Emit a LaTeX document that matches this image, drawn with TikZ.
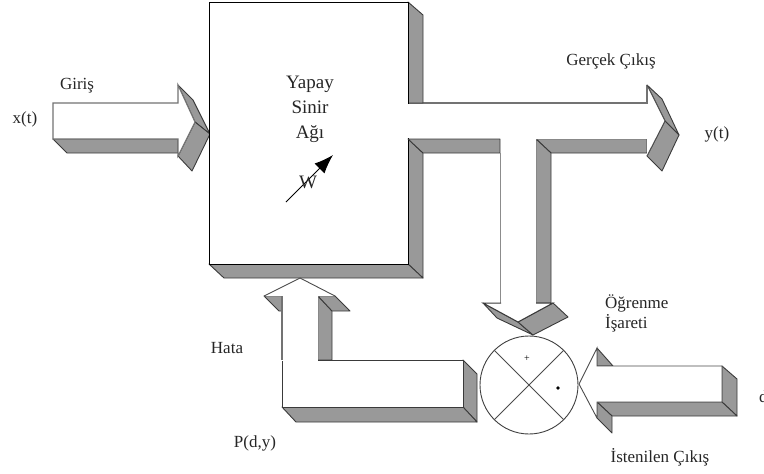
\documentclass[tikz,border=0pt]{standalone}
\usepackage{fontspec}
\setmainfont{Liberation Serif}
\usetikzlibrary{arrows.meta}
\definecolor{facegray}{HTML}{999999}
\definecolor{edgegray}{HTML}{3A3A3A}
\tikzset{
  shade3d/.style={fill=facegray,draw=edgegray,line width=0.9pt,line join=round},
  front/.style={fill=white,draw=edgegray,line width=1pt,line join=miter},
  lighter/.style={draw=black!55,line width=1.1pt},
  thinline/.style={draw=black!70,line width=0.9pt},
  lbl/.style={font=\fontsize{17}{20}\selectfont,text=black!85,inner sep=0pt},
  bigl/.style={font=\fontsize{19}{25}\selectfont,text=black!85,inner sep=0pt,align=center}
}
\begin{document}
\begin{tikzpicture}[x=1pt,y=-1pt]
\useasboundingbox (0,0) rectangle (764,474);
\fill[white] (0,0) rectangle (764,474);

% ---- input arrow
\draw[shade3d] (53,139) -- (67,153) -- (178,153) -- (178,139) -- cycle;
\draw[shade3d] (178,85) -- (193,100) -- (210,134) -- (195,122) -- cycle;
\draw[shade3d] (178,156) -- (192,171) -- (210,134) -- (195,122) -- cycle;
\draw[front,draw=black!55,line width=1.1pt] (53,103) -- (178,103) -- (178,85) -- (195,122) -- (178,156) -- (178,139) -- (53,139) -- cycle;

% ---- output arrow, T junction and its depth faces
\draw[shade3d] (536,139) -- (647,139) -- (647,153) -- (551,153) -- cycle;
\draw[shade3d] (536,139) -- (551,153) -- (551,303) -- (536,303) -- cycle;
\draw[shade3d] (647,85) -- (662,99) -- (679,135) -- (665,121) -- cycle;
\draw[shade3d] (647,156) -- (662,171) -- (679,135) -- (665,121) -- cycle;
\fill[white] (408,103) -- (647,103) -- (647,85) -- (665,121) -- (647,156) -- (647,139) -- (536,139) -- (536,303) -- (501,303) -- (501,139) -- (408,139) -- cycle;
\draw[lighter] (408,103) -- (647,103) -- (647,85);
\draw[thinline] (647,85) -- (665,121) -- (647,156);

% ---- main box depth faces
\draw[shade3d] (408,2) -- (423,15) -- (423,103) -- (408,103) -- cycle;
\draw[shade3d] (408,139) -- (423,153) -- (423,278) -- (408,264) -- cycle;
\draw[shade3d] (209,264) -- (408,264) -- (423,278) -- (224,278) -- cycle;
\draw[draw=black,line width=1pt,fill=white] (408,103) -- (408,264) -- (209,264) -- (209,2) -- (408,2) -- (408,103);
\fill[white] (407.2,104) rectangle (409.6,138);
\draw[shade3d] (408,139) -- (500,139) -- (500,153) -- (423,153) -- cycle;

% ---- down arrow into the summing circle
\draw[lighter,draw=black!45] (500.5,153) -- (500.5,303);
\draw[shade3d] (483,303) -- (497,318) -- (533,335) -- (518,322) -- cycle;
\draw[shade3d] (553,303) -- (568,317) -- (533,335) -- (518,322) -- cycle;
\draw[front] (501,303) -- (483,303) -- (518,322) -- (553,303) -- (536,303);

% ---- error arrow
\draw[shade3d] (463,360) -- (477,374) -- (477,422) -- (463,407) -- cycle;
\draw[shade3d] (282,407) -- (296,422) -- (477,422) -- (463,407) -- cycle;
\draw[shade3d] (264,296) -- (282,296) -- (282,311) -- (279,311) -- cycle;
\draw[shade3d] (318,296) -- (332,311) -- (332,360) -- (318,360) -- cycle;
\draw[shade3d] (318,296) -- (335,296) -- (350,311) -- (332,311) -- cycle;
\fill[white] (300,278) -- (335,296) -- (318,296) -- (318,360) -- (463,360) -- (463,407) -- (282,407) -- (282,296) -- (264,296) -- cycle;
\draw[thinline] (264,296) -- (300,278) -- (335,296);
\draw[lighter] (282,296) -- (282,360);
\draw[thinline,draw=edgegray] (282,361) -- (282,407) -- (463,407) -- (463,360) -- (318,360);

% ---- summing circle
\node[circle,draw=black!75,line width=0.9pt,minimum size=98pt,inner sep=0pt,fill=white] (sum) at (529,385) {};
\draw[thinline] (sum.135) -- (sum.315);
\draw[thinline] (sum.45) -- (sum.225);
\node[inner sep=0pt,font=\fontsize{10}{10}\selectfont] (plus) at (527,359) {+};
\fill[black] (558,388) circle (1.9pt);

% ---- desired output arrow
\draw[shade3d] (597,348) -- (613,366) -- (597,366) -- cycle;
\draw[shade3d] (722,366) -- (737,379) -- (737,416) -- (722,402) -- cycle;
\draw[shade3d] (597,402) -- (722,402) -- (737,416) -- (612,416) -- cycle;
\draw[shade3d] (597,402) -- (612,416) -- (612,433) -- (597,418) -- cycle;
\fill[white] (579,384) -- (597,348) -- (597,366) -- (722,366) -- (722,402) -- (597,402) -- (597,418) -- cycle;
\draw[thinline] (597,418) -- (579,384) -- (597,348) -- (597,366) -- (722,366) -- (722,402) -- (597,402) -- (597,418);

% ---- weight arrow
\coordinate (wa) at (286,202);
\coordinate (wb) at (333,155);
\draw[-{Latex[length=19pt,width=14pt]},line width=1pt,black] (wa) -- (wb);

% ---- labels
\node[bigl] (title) at (310,109) {Yapay\\Sinir\\Ağı};
\node[lbl,font=\fontsize{19}{20}\selectfont] (w) at (308,182) {W};
\node[lbl] (xt) at (25,119) {x(t)};
\node[lbl] (giris) at (77,86) {Giriş};
\node[lbl] (gercek) at (611,61) {Gerçek Çıkış};
\node[lbl] (yt) at (717,134) {y(t)};
\node[lbl] (hata) at (227,348) {Hata};
\node[lbl] (pdy) at (255,443) {P(d,y)};
\node[lbl,anchor=west,align=left] (ogr) at (605,313) {Öğrenme\\İşareti};
\node[lbl] (ist) at (660,457) {İstenilen Çıkış};
\node[lbl,anchor=west] (dt) at (759,397) {d};
\end{tikzpicture}
\end{document}
